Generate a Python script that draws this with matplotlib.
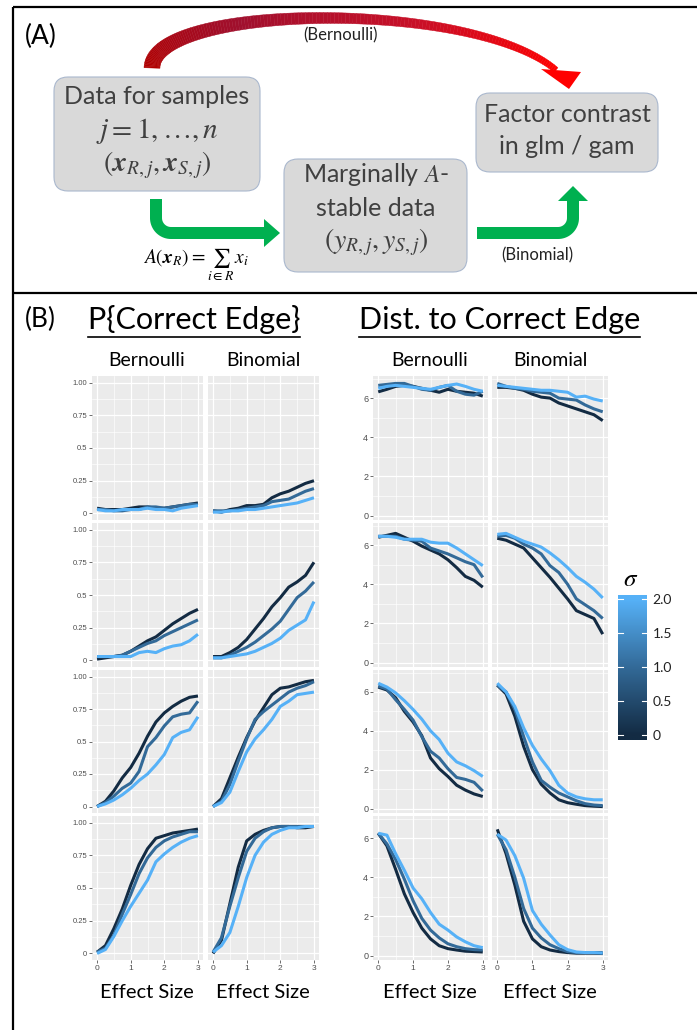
import numpy as np
import matplotlib.pyplot as plt
from matplotlib.colors import LinearSegmentedColormap
from matplotlib.patches import FancyBboxPatch, Polygon

plt.rcParams['mathtext.fontset'] = 'stix'

W, H = 697, 1030

# ===== DATA =====
effect = [0, 0.25, 0.5, 0.75, 1.0, 1.25, 1.5, 1.75, 2.0, 2.25, 2.5, 2.75, 3.0]
sigma = [0, 1, 2]

# P{Correct Edge}; each row: sigma = 0, 1, 2
p_bern_1 = [[0.04, 0.03, 0.03, 0.03, 0.04, 0.05, 0.05, 0.04, 0.04, 0.05, 0.06, 0.07, 0.08],
            [0.03, 0.03, 0.02, 0.02, 0.03, 0.03, 0.05, 0.05, 0.04, 0.05, 0.06, 0.07, 0.07],
            [0.03, 0.02, 0.02, 0.03, 0.03, 0.03, 0.04, 0.03, 0.03, 0.02, 0.04, 0.05, 0.06]]
p_binom_1 = [[0.02, 0.01, 0.03, 0.04, 0.06, 0.06, 0.07, 0.12, 0.15, 0.17, 0.20, 0.23, 0.25],
             [0.02, 0.02, 0.02, 0.03, 0.04, 0.05, 0.06, 0.09, 0.10, 0.11, 0.14, 0.17, 0.19],
             [0.01, 0.01, 0.02, 0.02, 0.03, 0.03, 0.04, 0.05, 0.06, 0.07, 0.08, 0.10, 0.12]]
p_bern_2 = [[0.01, 0.02, 0.03, 0.04, 0.07, 0.11, 0.15, 0.18, 0.23, 0.28, 0.32, 0.36, 0.39],
            [0.03, 0.03, 0.03, 0.04, 0.07, 0.10, 0.13, 0.15, 0.19, 0.22, 0.25, 0.28, 0.31],
            [0.03, 0.03, 0.03, 0.03, 0.03, 0.06, 0.07, 0.06, 0.09, 0.11, 0.12, 0.15, 0.20]]
p_binom_2 = [[0.03, 0.03, 0.06, 0.10, 0.16, 0.24, 0.32, 0.41, 0.48, 0.56, 0.60, 0.65, 0.75],
             [0.02, 0.02, 0.04, 0.07, 0.10, 0.14, 0.19, 0.24, 0.30, 0.39, 0.48, 0.53, 0.60],
             [0.02, 0.02, 0.03, 0.04, 0.05, 0.07, 0.10, 0.13, 0.17, 0.23, 0.27, 0.31, 0.45]]
p_bern_3 = [[0.00, 0.04, 0.12, 0.22, 0.30, 0.41, 0.54, 0.65, 0.72, 0.77, 0.81, 0.84, 0.85],
            [0.00, 0.03, 0.08, 0.14, 0.18, 0.27, 0.46, 0.53, 0.62, 0.69, 0.71, 0.72, 0.81],
            [0.00, 0.02, 0.05, 0.09, 0.14, 0.20, 0.25, 0.32, 0.40, 0.53, 0.57, 0.59, 0.69]]
p_binom_3 = [[0.00, 0.06, 0.22, 0.38, 0.53, 0.66, 0.76, 0.86, 0.91, 0.92, 0.94, 0.96, 0.97],
             [0.00, 0.04, 0.17, 0.35, 0.52, 0.67, 0.73, 0.78, 0.83, 0.88, 0.91, 0.93, 0.96],
             [0.00, 0.03, 0.11, 0.27, 0.42, 0.52, 0.59, 0.67, 0.77, 0.81, 0.86, 0.87, 0.88]]
p_bern_4 = [[0.01, 0.06, 0.19, 0.34, 0.52, 0.68, 0.80, 0.88, 0.90, 0.92, 0.93, 0.94, 0.95],
            [0.01, 0.04, 0.14, 0.30, 0.45, 0.61, 0.73, 0.81, 0.86, 0.89, 0.91, 0.93, 0.93],
            [0.00, 0.03, 0.13, 0.25, 0.36, 0.46, 0.56, 0.70, 0.76, 0.81, 0.85, 0.88, 0.90]]
p_binom_4 = [[0.00, 0.10, 0.38, 0.66, 0.86, 0.91, 0.94, 0.96, 0.97, 0.97, 0.96, 0.96, 0.97],
             [0.01, 0.12, 0.36, 0.58, 0.78, 0.88, 0.93, 0.96, 0.97, 0.97, 0.97, 0.97, 0.97],
             [0.01, 0.06, 0.16, 0.36, 0.58, 0.75, 0.85, 0.91, 0.94, 0.96, 0.96, 0.97, 0.97]]

# Dist. to Correct Edge; each row: sigma = 0, 1, 2
d_bern_1 = [[6.32, 6.45, 6.60, 6.65, 6.60, 6.50, 6.40, 6.30, 6.45, 6.35, 6.30, 6.25, 6.10],
            [6.65, 6.70, 6.75, 6.75, 6.60, 6.45, 6.40, 6.55, 6.65, 6.35, 6.20, 6.15, 6.35],
            [6.50, 6.60, 6.65, 6.60, 6.55, 6.50, 6.45, 6.55, 6.65, 6.72, 6.60, 6.45, 6.35]]
d_binom_1 = [[6.55, 6.55, 6.50, 6.40, 6.20, 6.05, 6.00, 5.75, 5.60, 5.45, 5.30, 5.15, 4.85],
             [6.75, 6.60, 6.50, 6.45, 6.35, 6.30, 6.25, 6.00, 5.95, 5.90, 5.65, 5.45, 5.30],
             [6.65, 6.60, 6.55, 6.50, 6.45, 6.40, 6.40, 6.35, 6.30, 6.05, 6.10, 5.95, 5.85]]
d_bern_2 = [[6.40, 6.50, 6.60, 6.40, 6.20, 5.95, 5.75, 5.55, 5.25, 4.85, 4.40, 4.20, 3.85],
            [6.45, 6.45, 6.45, 6.30, 6.25, 6.20, 5.85, 5.70, 5.55, 5.35, 5.15, 5.00, 4.35],
            [6.45, 6.45, 6.40, 6.30, 6.30, 6.30, 6.15, 6.10, 6.10, 5.85, 5.55, 5.25, 4.95]]
d_binom_2 = [[6.35, 6.25, 6.05, 5.85, 5.35, 4.85, 4.35, 3.80, 3.25, 2.65, 2.45, 2.25, 1.45],
             [6.45, 6.50, 6.35, 6.05, 5.85, 5.55, 4.95, 4.60, 4.00, 3.25, 2.95, 2.65, 2.25],
             [6.55, 6.60, 6.40, 6.20, 6.05, 5.90, 5.60, 5.25, 4.85, 4.40, 4.10, 3.75, 3.30]]
d_bern_3 = [[6.25, 6.10, 5.70, 5.00, 4.45, 3.75, 2.60, 2.05, 1.65, 1.20, 0.95, 0.75, 0.62],
            [6.30, 6.15, 5.60, 5.10, 4.55, 3.70, 2.95, 2.60, 2.05, 1.60, 1.50, 1.35, 0.90],
            [6.45, 6.25, 5.95, 5.55, 5.10, 4.60, 4.00, 3.55, 2.85, 2.40, 2.20, 1.95, 1.65]]
d_binom_3 = [[6.35, 5.90, 4.75, 3.20, 2.00, 1.25, 0.80, 0.45, 0.30, 0.22, 0.15, 0.12, 0.10],
             [6.35, 6.00, 5.10, 3.70, 2.40, 1.45, 1.10, 0.80, 0.60, 0.40, 0.25, 0.18, 0.15],
             [6.45, 6.00, 5.25, 4.15, 3.25, 2.55, 1.95, 1.20, 0.80, 0.60, 0.50, 0.45, 0.45]]
d_bern_4 = [[6.25, 5.60, 4.40, 3.15, 2.20, 1.40, 0.85, 0.50, 0.35, 0.28, 0.22, 0.20, 0.18],
            [6.25, 5.70, 4.90, 3.90, 2.80, 1.90, 1.30, 0.90, 0.60, 0.45, 0.35, 0.30, 0.28],
            [6.25, 6.15, 5.20, 4.35, 3.45, 2.90, 2.20, 1.60, 1.30, 0.95, 0.70, 0.50, 0.40]]
d_binom_4 = [[6.45, 5.20, 3.60, 1.75, 0.85, 0.45, 0.28, 0.20, 0.15, 0.12, 0.12, 0.12, 0.10],
             [6.20, 5.40, 4.00, 2.40, 1.40, 0.90, 0.55, 0.35, 0.20, 0.15, 0.15, 0.15, 0.15],
             [6.20, 5.90, 5.10, 3.95, 2.30, 1.60, 1.05, 0.55, 0.30, 0.18, 0.15, 0.15, 0.12]]

p_rows = [(p_bern_1, p_binom_1), (p_bern_2, p_binom_2), (p_bern_3, p_binom_3), (p_bern_4, p_binom_4)]
d_rows = [(d_bern_1, d_binom_1), (d_bern_2, d_binom_2), (d_bern_3, d_binom_3), (d_bern_4, d_binom_4)]

p_ticks = [0, 0.25, 0.5, 0.75, 1.0]
p_labels = ["0", "0.25", "0.5", "0.75", "1.00"]
d_ticks = [0, 2, 4, 6]
d_labels = ["0", "2", "4", "6"]
sigma_ticks = [0, 0.5, 1.0, 1.5, 2.0]
sigma_labels = ["0", "0.5", "1.0", "1.5", "2.0"]

# ===== STYLE =====
gg_blue = LinearSegmentedColormap.from_list("gg", ["#132B43", "#336A98", "#56B1F7"])
GREEN = "#00B050"
BOX_FC = "#D9D9D9"
BOX_EC = "#AAB8CE"
TXT = "#404040"
SANS = "Lato"

fig = plt.figure(figsize=(W / 100, H / 100), dpi=100)
fig.patch.set_facecolor("white")


def px_axes(x0, y0, x1, y1):
    return fig.add_axes([x0 / W, 1 - y1 / H, (x1 - x0) / W, (y1 - y0) / H])


def gg_panel(ax, curves, ylim, yticks, ylabels, yminor, left, bottom, ysize):
    ax.set_facecolor("#EBEBEB")
    for sp in ax.spines.values():
        sp.set_visible(False)
    for s, vals in zip(sigma, curves):
        ax.plot(effect, vals, color=gg_blue(s / 2), lw=2.2, solid_joinstyle="round",
                solid_capstyle="butt", zorder=3)
    ax.set_xlim(-0.15, 3.15)
    ax.set_ylim(*ylim)
    ax.set_xticks([0, 1, 2, 3])
    ax.set_xticks([0.5, 1.5, 2.5], minor=True)
    ax.set_yticks(yticks)
    ax.set_yticks(yminor, minor=True)
    ax.set_axisbelow(True)
    ax.grid(which="major", color="white", lw=0.9)
    ax.grid(which="minor", color="white", lw=0.45)
    ax.tick_params(which="minor", length=0)
    ax.tick_params(which="major", length=2, width=0.5, color="#333333",
                   labelcolor="#4D4D4D", pad=1.5)
    if left:
        ax.set_yticklabels(ylabels, fontsize=ysize, family="Liberation Sans")
    else:
        ax.tick_params(axis="y", length=0, labelleft=False)
    if bottom:
        ax.set_xticklabels(["0", "1", "2", "3"], fontsize=6, family="Liberation Sans")
    else:
        ax.tick_params(axis="x", length=0, labelbottom=False)


cols_p = [(92, 203), (208, 319)]
cols_d = [(373, 488), (492, 608)]
rows = [(376, 520), (523, 667), (670, 813), (816, 960)]

for r, (y0, y1) in enumerate(rows):
    for c, (x0, x1) in enumerate(cols_p):
        ax = px_axes(x0, y0, x1, y1)
        gg_panel(ax, p_rows[r][c], (-0.05, 1.05), p_ticks, p_labels,
                 [0.125, 0.375, 0.625, 0.875], c == 0, r == 3, 5.5)
    for c, (x0, x1) in enumerate(cols_d):
        ax = px_axes(x0, y0, x1, y1)
        gg_panel(ax, d_rows[r][c], (-0.23, 7.13), d_ticks, d_labels,
                 [1, 3, 5, 7], c == 0, r == 3, 6.5)

# colour bar for sigma
cax = px_axes(618, 595, 647, 740)
grad = np.linspace(-0.07, 2.06, 256).reshape(-1, 1)
cax.imshow(grad, cmap=gg_blue, vmin=0, vmax=2, aspect="auto", origin="lower",
           extent=[0, 1, -0.07, 2.06])
for v in sigma_ticks:
    cax.plot([0, 0.18], [v, v], color="white", lw=0.8)
    cax.plot([0.82, 1], [v, v], color="white", lw=0.8)
cax.set_xlim(0, 1)
cax.set_ylim(-0.07, 2.06)
cax.set_xticks([])
cax.yaxis.tick_right()
cax.set_yticks(sigma_ticks)
cax.set_yticklabels(sigma_labels, fontsize=10, family=SANS, color="#222222")
cax.tick_params(axis="y", length=0, pad=4)
for sp in cax.spines.values():
    sp.set_visible(False)

# ===== OVERLAY (diagram, titles, frame) =====
ov = fig.add_axes([0, 0, 1, 1])
ov.set_xlim(0, W)
ov.set_ylim(H, 0)
ov.axis("off")
ov.set_zorder(5)

# frame
ov.plot([13, 13], [7, H], color="black", lw=1.6, solid_capstyle="butt")
ov.plot([13, W], [7, 7], color="black", lw=1.6, solid_capstyle="butt")
ov.plot([13, W], [293, 293], color="black", lw=1.6, solid_capstyle="butt")

ov.text(41, 36, "(A)", fontsize=19, family=SANS, ha="center", va="center")
ov.text(40, 319, "(B)", fontsize=19, family=SANS, ha="center", va="center")


def box(x0, y0, x1, y1):
    ov.add_patch(FancyBboxPatch((x0, y0), x1 - x0, y1 - y0,
                                boxstyle="round,pad=0,rounding_size=14",
                                fc=BOX_FC, ec=BOX_EC, lw=0.8))


box(54, 77, 260, 191)
box(284, 159, 467, 272)
box(476, 93, 658, 172)

ov.text(157, 97, "Data for samples", fontsize=18, family=SANS, color=TXT, ha="center", va="center")
ov.text(157, 131, r"$j = 1, \ldots, n$", fontsize=21, color=TXT, ha="center", va="center")
ov.text(157, 165, r"$\left(\mathbfit{x}_{R,j}, \mathbfit{x}_{S,j}\right)$", fontsize=20, color=TXT,
        ha="center", va="center")
ov.text(376, 175, r"Marginally $A$-", fontsize=18, family=SANS, color=TXT, ha="center", va="center")
ov.text(376, 208, "stable data", fontsize=18, family=SANS, color=TXT, ha="center", va="center")
ov.text(376, 242, r"$\left(y_{R,j}, y_{S,j}\right)$", fontsize=20, color=TXT, ha="center", va="center")
ov.text(567, 114, "Factor contrast", fontsize=18, family=SANS, color=TXT, ha="center", va="center")
ov.text(567, 147, "in glm / gam", fontsize=18, family=SANS, color=TXT, ha="center", va="center")

# red curved arrow (Bernoulli)
t = np.linspace(0, 1, 150)[:, None]
p0, p1, p2, p3 = [np.array(p, float) for p in [(152, 68), (152, 4), (470, -2), (556, 70)]]
pts = (1 - t) ** 3 * p0 + 3 * (1 - t) ** 2 * t * p1 + 3 * (1 - t) * t ** 2 * p2 + t ** 3 * p3
d = np.gradient(pts, axis=0)
nrm = np.stack([-d[:, 1], d[:, 0]], axis=1)
nrm /= np.linalg.norm(nrm, axis=1)[:, None]
tt = t[:, 0]
hw = 8 * (1 - tt) + 3.0 * tt
upper = pts + nrm * hw[:, None]
lower = pts - nrm * hw[:, None]
reds = LinearSegmentedColormap.from_list("reds", ["#B00000", "#A0102E", "#C81028", "#FF0000"])
for i in range(len(pts) - 1):
    c = reds(tt[i])
    ov.add_patch(Polygon([upper[i], upper[i + 1], lower[i + 1], lower[i]], closed=True,
                         fc=c, ec=c, lw=0.3))
ov.add_patch(Polygon([(541, 69), (581, 72), (569, 89)], closed=True, fc="#FF0000", ec="none"))
ov.text(340, 35, "(Bernoulli)", fontsize=12, family=SANS, color="#222222", ha="center", va="center")

# green arrows (Binomial route)
ang = np.linspace(np.pi, np.pi / 2, 20)
gx = [156] + list(171 + 15 * np.cos(ang)) + [266]
gy = [199] + list(218 + 15 * np.sin(ang)) + [233]
ov.plot(gx, gy, color=GREEN, lw=12 * 0.72, solid_capstyle="butt", solid_joinstyle="round")
ov.add_patch(Polygon([(264, 219), (280, 233), (264, 247)], closed=True, fc=GREEN, ec="none"))

ang = np.linspace(np.pi / 2, 0, 20)
gx = [477] + list(558 + 15 * np.cos(ang)) + [573]
gy = [233] + list(218 + 15 * np.sin(ang)) + [201]
ov.plot(gx, gy, color=GREEN, lw=12 * 0.72, solid_capstyle="butt", solid_joinstyle="round")
ov.add_patch(Polygon([(558, 201), (573, 186), (588, 201)], closed=True, fc=GREEN, ec="none"))

ov.text(196, 265, r"$A(\mathbfit{x}_R) = \sum_{i \in R}\, x_i$", fontsize=14, color="black",
        ha="center", va="center")
ov.text(537, 255, "(Binomial)", fontsize=12, family=SANS, color="#222222", ha="center", va="center")

# panel B headings
h1 = ov.text(88, 320, "P{Correct Edge}", fontsize=22, family=SANS, ha="left", va="center")
h2 = ov.text(359, 320, "Dist. to Correct Edge", fontsize=22, family=SANS, ha="left", va="center")
fig.canvas.draw()
inv = ov.transData.inverted()
for h in (h1, h2):
    bb = h.get_window_extent()
    (ux0, _), (ux1, _) = inv.transform([(bb.x0, bb.y0), (bb.x1, bb.y0)])
    ov.plot([ux0, ux1], [337, 337], color="black", lw=1.2)

for cx, lab in [(147, "Bernoulli"), (263, "Binomial"), (430, "Bernoulli"), (550, "Binomial")]:
    ov.text(cx, 360, lab, fontsize=14, family=SANS, ha="center", va="center")
    ov.text(cx, 992, "Effect Size", fontsize=14.5, family=SANS, ha="center", va="center")

ov.text(631, 579, r"$\sigma$", fontsize=18, ha="center", va="center")

fig.savefig("out.png", dpi=100)
